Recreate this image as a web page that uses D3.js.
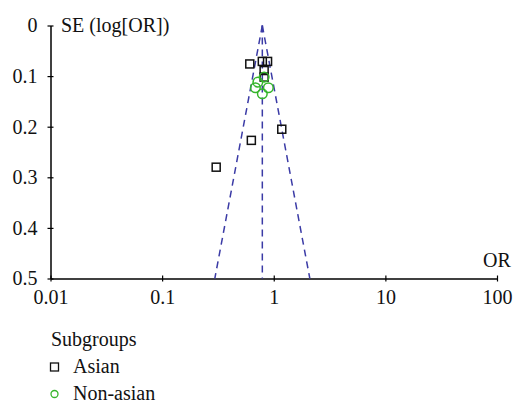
<!DOCTYPE html>
<html>
<head>
<meta charset="utf-8">
<script src="https://cdn.jsdelivr.net/npm/d3@7"></script>
<style>
  body { margin: 0; background: #fff; }
  text { font-family: "Liberation Serif", "DejaVu Serif", serif; fill: #111; }
</style>
</head>
<body>
<svg id="chart"></svg>
<script>
// Data
const asianOR = [0.61, 0.79, 0.88, 0.82, 0.82, 1.18, 0.63, 0.305];
const asianSE = [0.076, 0.071, 0.071, 0.089, 0.102, 0.205, 0.227, 0.28];
const nonAsianOR = [0.82, 0.72, 0.685, 0.895, 0.79];
const nonAsianSE = [0.102, 0.112, 0.123, 0.123, 0.135];
const pooledOR = 0.79;
const funnelSE = [0, 0.5];
const xTicks = [0.01, 0.1, 1, 10, 100];
const yTicks = [0, 0.1, 0.2, 0.3, 0.4, 0.5];
const groups = ["Asian", "Non-asian"];

const w = 513, h = 404;

const svg = d3.select("#chart")
  .attr("width", w)
  .attr("height", h);

const x = d3.scaleLog()
  .domain([0.01, 100])
  .range([50.5, 497]);

const y = d3.scaleLinear()
  .domain([0, 0.5])
  .range([25.5, 278.5]);

const blue = "#3b3ba6";
const green = "#35b52a";

// axes
const xAxis = d3.axisBottom(x)
  .tickValues(xTicks)
  .tickFormat(d => d)
  .tickSize(4)
  .tickSizeOuter(0);

const gx = svg.append("g")
  .attr("transform", `translate(0,${y(0.5)})`)
  .call(xAxis);
gx.select(".domain").attr("stroke", "#000").attr("stroke-width", 1.5);
gx.selectAll(".tick line").attr("y1", -3).attr("y2", 3).attr("stroke-width", 1.2);
gx.selectAll(".tick text")
  .attr("y", 11)
  .attr("dy", "0.71em")
  .style("font-size", "20px");

const yAxis = d3.axisLeft(y)
  .tickValues(yTicks)
  .tickFormat(d => d)
  .tickSize(3)
  .tickSizeOuter(0);

const gy = svg.append("g")
  .attr("transform", `translate(${x(0.01)},0)`)
  .call(yAxis);
gy.select(".domain").attr("stroke", "#000").attr("stroke-width", 1.5);
gy.selectAll(".tick line").attr("x1", -3).attr("x2", 3).attr("stroke-width", 1.2);
gy.selectAll(".tick text")
  .attr("x", -13)
  .style("font-size", "20px");
svg.selectAll(".tick text").attr("font-family", null);

svg.append("text")
  .attr("x", 61)
  .attr("y", 32)
  .style("font-size", "20px")
  .text("SE (log[OR])");

svg.append("text")
  .attr("x", 497)
  .attr("y", 267)
  .attr("text-anchor", "middle")
  .style("font-size", "20px")
  .text("OR");

// funnel lines
const lnP = Math.log(pooledOR);
const funnelLines = [
  funnelSE.map(s => [Math.exp(lnP - 1.96 * s), s]),
  funnelSE.map(s => [pooledOR, s]),
  funnelSE.map(s => [Math.exp(lnP + 1.96 * s), s])
];
const line = d3.line().x(d => x(d[0])).y(d => y(d[1]));

svg.append("g")
  .selectAll("path")
  .data(funnelLines)
  .enter()
  .append("path")
  .attr("d", line)
  .attr("fill", "none")
  .attr("stroke", blue)
  .attr("stroke-width", 1.5)
  .attr("stroke-dasharray", "7,5");

// points
const sq = 8;
svg.append("g")
  .selectAll("rect")
  .data(asianOR.map((o, i) => [o, asianSE[i]]))
  .enter()
  .append("rect")
  .attr("x", d => x(d[0]) - sq / 2)
  .attr("y", d => y(d[1]) - sq / 2)
  .attr("width", sq)
  .attr("height", sq)
  .attr("fill", "none")
  .attr("stroke", "#111")
  .attr("stroke-width", 1.5);

svg.append("g")
  .selectAll("circle")
  .data(nonAsianOR.map((o, i) => [o, nonAsianSE[i]]))
  .enter()
  .append("circle")
  .attr("cx", d => x(d[0]))
  .attr("cy", d => y(d[1]))
  .attr("r", 4.8)
  .attr("fill", "none")
  .attr("stroke", green)
  .attr("stroke-width", 1.5);

// legend
const legend = svg.append("g");
legend.append("text")
  .attr("x", 51)
  .attr("y", 346)
  .style("font-size", "20px")
  .text("Subgroups");

const items = legend.selectAll("g.item")
  .data(groups)
  .enter()
  .append("g")
  .attr("class", "item")
  .attr("transform", (d, i) => `translate(0,${367 + i * 27})`);

items.append("text")
  .attr("x", 73)
  .attr("y", 6)
  .style("font-size", "20px")
  .text(d => d);

items.filter((d, i) => i === 0)
  .append("rect")
  .attr("x", 50.5).attr("y", -4)
  .attr("width", 8).attr("height", 8)
  .attr("fill", "none")
  .attr("stroke", "#111")
  .attr("stroke-width", 1.3);

items.filter((d, i) => i === 1)
  .append("circle")
  .attr("cx", 54.5).attr("cy", 0)
  .attr("r", 3.5)
  .attr("fill", "none")
  .attr("stroke", green)
  .attr("stroke-width", 1.3);
</script>
</body>
</html>
